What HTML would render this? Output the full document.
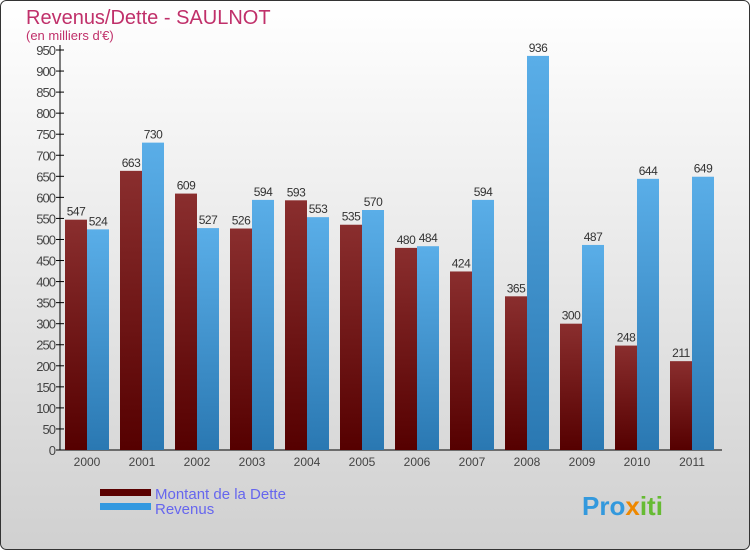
<!DOCTYPE html>
<html><head><meta charset="utf-8"><style>
body{margin:0;width:750px;height:550px;overflow:hidden;font-family:"Liberation Sans",sans-serif}
</style></head><body>
<svg width="750" height="550">
<defs>
<linearGradient id="bg" x1="0" y1="0" x2="0" y2="1"><stop offset="0" stop-color="#ffffff"/><stop offset="1" stop-color="#d0d0d0"/></linearGradient>
<linearGradient id="gd" x1="0" y1="0" x2="0" y2="1"><stop offset="0" stop-color="#8a2e2e"/><stop offset="1" stop-color="#550000"/></linearGradient>
<linearGradient id="gr" x1="0" y1="0" x2="0" y2="1"><stop offset="0" stop-color="#5aaee8"/><stop offset="1" stop-color="#2a78b2"/></linearGradient>
</defs>
<rect x="0.5" y="0.5" width="749" height="549" rx="6" fill="url(#bg)" stroke="#333"/>
<text x="26" y="24" font-size="20" fill="#c0306a">Revenus/Dette - SAULNOT</text>
<text x="26" y="40" font-size="13" fill="#c0306a">(en milliers d'€)</text>
<g id="axes"></g><g id="bars"></g>
<rect x="100" y="489" width="51" height="7" fill="#5a0000"/>
<rect x="100" y="503" width="51" height="7" fill="#3399e0"/>
<text x="155" y="499" font-size="15" fill="#6666ee">Montant de la Dette</text>
<text x="155" y="514" font-size="15" fill="#6666ee">Revenus</text>
<text x="582" y="515" font-size="26" font-weight="bold" fill="#3399dd">Pro<tspan fill="#ee8800">x</tspan><tspan fill="#66bb33">iti</tspan></text>
</svg>
<script>
const years=["2000","2001","2002","2003","2004","2005","2006","2007","2008","2009","2010","2011"];
const dette=[547,663,609,526,593,535,480,424,365,300,248,211];
const revenus=[524,730,527,594,553,570,484,594,936,487,644,649];
const ticks=[0,50,100,150,200,250,300,350,400,450,500,550,600,650,700,750,800,850,900,950];
const NS="http://www.w3.org/2000/svg";
const y=v=>450-v*400/950;
const x=i=>65+i*55;
function mk(t,a,p){const e=document.createElementNS(NS,t);for(const k in a)e.setAttribute(k,a[k]);p.appendChild(e);return e;}
const ax=document.getElementById('axes'),bg=document.getElementById('bars');
const yl=mk('line',{x1:60,y1:45,x2:60,y2:450,stroke:'#000'},ax);


const xl=mk('line',{x1:60,y1:450,x2:722,y2:450,stroke:'#000'},ax);


ticks.forEach(t=>{
 mk('line',{x1:56,y1:y(t),x2:64,y2:y(t),stroke:'#000'},ax);
 const tx=mk('text',{x:55,y:y(t)+5,'font-size':13,fill:'#444','text-anchor':'end','letter-spacing':'-1'},ax);tx.textContent=t;
 
 
});
years.forEach((yr,i)=>{
 const t=mk('text',{x:x(i)+22,y:466,'font-size':12,fill:'#444','text-anchor':'middle'},ax);t.textContent=yr;
 
 
 [[dette,'url(#gd)',0,'dette'],[revenus,'url(#gr)',22,'revenus']].forEach(([arr,f,o,n])=>{
  const v=arr[i];
  const r=mk('rect',{x:x(i)+o,y:y(v),width:22,height:450-y(v),fill:f},bg);
  
  
  const l=mk('text',{x:x(i)+o+11,y:y(v)-4,'font-size':12,fill:'#333','text-anchor':'middle','letter-spacing':'-0.5'},bg);l.textContent=v;
  
  
 });
});
</script>
</body></html>
